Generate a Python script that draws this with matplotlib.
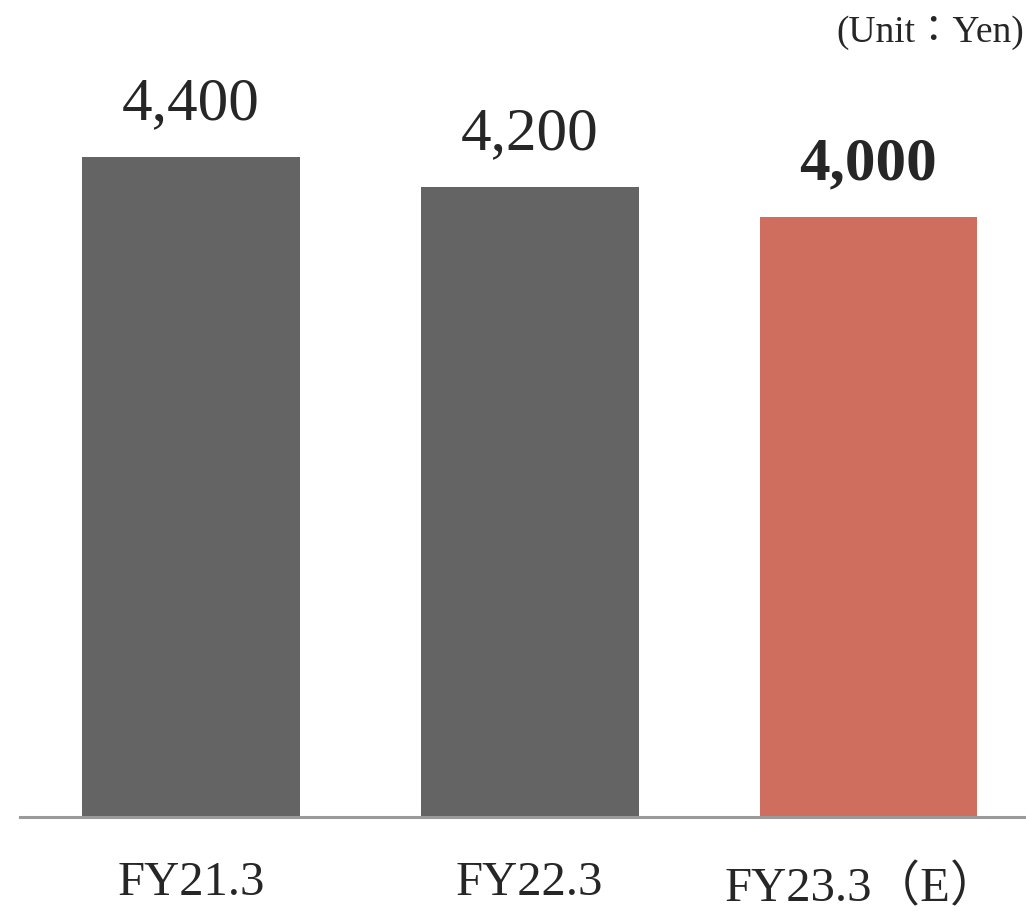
import numpy as np
import matplotlib
matplotlib.use("Agg")
import matplotlib.pyplot as plt

# datos
periods = ['FY21.3', 'FY22.3', 'FY23.3（E）']
values = [4400, 4200, 4000]
highlight = [False, False, True]

GRAY = '#646464'
RED = '#CF6E5F'
FONT = ['Liberation Serif', 'Noto Sans CJK JP', 'DejaVu Serif']

plt.rcParams['font.family'] = FONT

fig = plt.figure(figsize=(10.26, 9.12), dpi=100)
ax = fig.add_axes([20 / 1026, 94 / 912, 1 - 20 / 1026, 818 / 912])

x = np.arange(len(values))
cols = [RED if h else GRAY for h in highlight]
ax.bar(x, values, 0.643, color=cols, zorder=2)

ax.set_xlim(-0.504, 2.465)
ax.set_ylim(0, 818 / 0.15)

for s in ('top', 'right', 'left'):
    ax.spines[s].set_visible(False)
ax.spines['bottom'].set_color('#9a9a9a')
ax.spines['bottom'].set_linewidth(2.2)
ax.set_yticks([])
ax.set_xticks([])

# etiquetas de valor
for xi, v, h in zip(x, values, highlight):
    ax.text(xi, v + 260, f'{v:,}', ha='center', va='baseline',
            fontsize=44, color='#262626',
            fontweight='bold' if h else 'normal')

# etiquetas de categoria (desplazamiento en pixeles bajo la base)
offs = [0, 0, -0.02]
drop_px = [77, 77, 83]
for xi, lab, o, d in zip(x, periods, offs, drop_px):
    ax.annotate(lab, xy=(xi + o, 0), xycoords='data',
                xytext=(0, -d * 0.72), textcoords='offset points',
                ha='center', va='baseline', fontsize=35, color='#262626')

fig.text(1024 / 1026, 1 - 42 / 912, '(Unit：Yen)', ha='right', va='baseline',
         fontsize=27, color='#262626')

fig.savefig('out.png', dpi=100)
